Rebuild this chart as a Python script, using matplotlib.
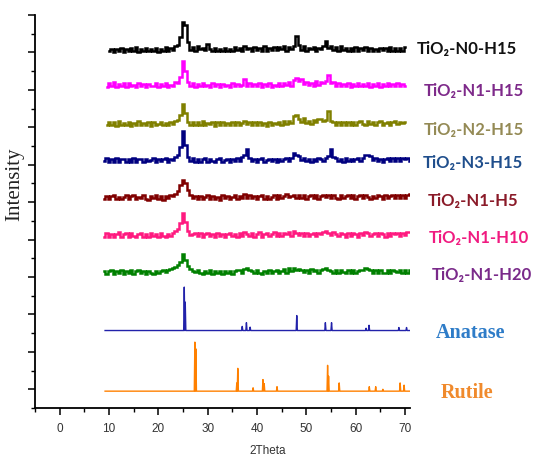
import numpy as np
import matplotlib
matplotlib.use("Agg")
import matplotlib.pyplot as plt

# XRD patterns, offset vertically (one major tick per unit)
# noisy samples: intensity above baseline in 1/100 units, 2theta = 9.0 + 0.5*i
n0_h15 = [0, 0, 3, 10, 2, 8, 4, 12, 2, 9,
          3, 11, 5, 14, 2, 9, 4, 12, 3, 10,
          5, 13, 2, 9, 4, 15, 3, 11, 6, 16,
          20, 40, 82, 74, 28, 6, 14, 4, 16, 8,
          12, 6, 22, 10, 5, 12, 3, 9, 4, 13,
          5, 10, 3, 14, 6, 12, 4, 16, 8, 13,
          4, 15, 6, 11, 3, 16, 5, 12, 7, 14,
          6, 14, 8, 17, 5, 15, 9, 18, 44, 20,
          7, 16, 5, 13, 8, 15, 4, 12, 10, 16,
          30, 12, 17, 6, 14, 5, 16, 7, 12, 4,
          13, 5, 15, 3, 11, 6, 14, 4, 12, 5,
          10, 3, 13, 6, 12, 4, 14, 5, 11, 3,
          12, 5, 14, 0, 0]
n1_h15 = [0, 3, 12, 4, 16, 3, 10, 5, 13, 2,
          14, 4, 9, 3, 12, 5, 10, 2, 11, 6,
          4, 13, 3, 10, 5, 12, 2, 9, 6, 15,
          12, 30, 72, 45, 15, 5, 12, 3, 10, 4,
          13, 5, 9, 3, 12, 6, 10, 2, 11, 5,
          9, 3, 12, 6, 10, 4, 8, 24, 6, 12,
          4, 11, 5, 13, 3, 10, 6, 12, 2, 9,
          6, 14, 4, 12, 7, 15, 5, 22, 26, 18,
          24, 10, 16, 8, 14, 6, 18, 9, 15, 12,
          20, 36, 12, 16, 6, 13, 4, 11, 5, 12,
          3, 10, 5, 13, 4, 11, 6, 14, 3, 10,
          5, 12, 3, 11, 6, 13, 4, 10, 5, 12,
          4, 11, 6, 0, 0]
n2_h15 = [0, 4, 14, 5, 12, 3, 15, 4, 10, 6,
          13, 3, 11, 5, 16, 4, 10, 6, 13, 3,
          12, 5, 9, 14, 4, 11, 6, 13, 8, 16,
          18, 32, 62, 38, 14, 5, 13, 4, 12, 6,
          15, 4, 11, 7, 13, 3, 12, 5, 14, 6,
          10, 4, 13, 6, 12, 5, 11, 15, 8, 13,
          5, 12, 4, 14, 6, 11, 3, 13, 5, 10,
          7, 14, 5, 16, 8, 15, 10, 28, 32, 20,
          12, 24, 10, 17, 9, 18, 12, 20, 22, 16,
          18, 42, 16, 13, 6, 12, 4, 14, 5, 12,
          6, 14, 4, 12, 16, 9, 5, 15, 8, 13,
          4, 12, 15, 5, 11, 14, 6, 13, 16, 7,
          14, 10, 13, 0, 0]
n3_h15 = [6, 14, 4, 12, 5, 15, 3, 11, 13, 4,
          12, 5, 14, 3, 11, 13, 4, 12, 6, 10,
          14, 4, 12, 6, 11, 15, 5, 13, 9, 18,
          22, 45, 88, 50, 18, 6, 14, 5, 12, 4,
          13, 15, 5, 12, 6, 4, 11, 16, 5, 10,
          13, 5, 11, 6, 14, 7, 18, 22, 40, 14,
          6, 13, 4, 12, 15, 5, 10, 13, 6, 11,
          5, 13, 6, 12, 14, 8, 16, 28, 24, 20,
          10, 14, 6, 13, 5, 12, 7, 15, 13, 8,
          16, 20, 38, 17, 14, 6, 12, 5, 14, 7,
          13, 6, 12, 15, 7, 16, 22, 24, 20, 10,
          14, 6, 13, 5, 12, 15, 7, 14, 6, 16,
          7, 14, 12, 15, 6]
n1_h5 = [4, 13, 5, 12, 16, 4, 11, 5, 9, 14,
         5, 12, 15, 4, 11, 6, 14, 5, 3, 12,
         6, 14, 4, 12, 3, 13, 6, 15, 12, 18,
         26, 42, 55, 48, 28, 14, 6, 13, 5, 12,
         4, 11, 14, 5, 12, 4, 10, 3, 14, 6,
         12, 4, 11, 15, 5, 13, 6, 17, 8, 14,
         6, 13, 4, 12, 16, 5, 13, 4, 11, 15,
         5, 15, 7, 13, 17, 9, 12, 15, 8, 16,
         6, 14, 5, 12, 15, 7, 14, 5, 12, 16,
         9, 16, 6, 15, 8, 5, 14, 7, 12, 15,
         6, 14, 5, 12, 15, 7, 14, 9, 5, 13,
         7, 15, 12, 5, 14, 6, 12, 16, 7, 14,
         8, 15, 6, 14, 19]
n1_h10 = [5, 15, 4, 13, 5, 12, 16, 4, 11, 14,
          5, 14, 7, 3, 13, 15, 5, 12, 4, 14,
          6, 13, 4, 15, 7, 3, 13, 6, 14, 19,
          24, 40, 68, 44, 20, 8, 11, 15, 7, 14,
          4, 13, 15, 6, 12, 3, 14, 6, 13, 5,
          12, 15, 6, 13, 4, 14, 7, 17, 12, 6,
          14, 5, 13, 16, 5, 12, 14, 6, 13, 16,
          7, 14, 6, 15, 12, 16, 7, 19, 15, 8,
          14, 7, 15, 6, 13, 14, 7, 15, 12, 16,
          19, 14, 8, 17, 13, 7, 15, 12, 5, 14,
          7, 14, 12, 5, 15, 8, 17, 14, 7, 13,
          15, 6, 14, 12, 5, 15, 7, 14, 12, 15,
          6, 14, 8, 16, 18]
n1_h20 = [12, 4, 11, 15, 5, 13, 6, 14, 4, 12,
          6, 14, 5, 12, 15, 6, 13, 4, 12, 7,
          5, 13, 6, 12, 14, 10, 15, 17, 19, 23,
          28, 35, 58, 42, 25, 17, 13, 10, 15, 7,
          5, 13, 6, 14, 4, 12, 6, 13, 5, 12,
          6, 13, 5, 12, 14, 15, 8, 17, 19, 14,
          12, 6, 15, 7, 5, 13, 6, 14, 7, 12,
          14, 7, 13, 17, 8, 19, 12, 21, 15, 18,
          15, 9, 14, 8, 17, 12, 15, 8, 16, 18,
          19, 16, 12, 8, 14, 7, 15, 10, 6, 14,
          8, 15, 7, 13, 16, 14, 19, 17, 14, 8,
          14, 6, 15, 8, 6, 14, 8, 15, 13, 9,
          14, 6, 15, 8, 14]

samples = [
    # label, data, baseline, start, end, line colour, label colour
    ("TiO\u2082-N0-H15", n0_h15, 9.00, 10.0, 70.0, "#000000", "#111111"),
    ("TiO\u2082-N1-H15", n1_h15, 8.05, 9.5, 70.0, "#FF00FF", "#7E2A8A"),
    ("TiO\u2082-N2-H15", n2_h15, 7.01, 9.5, 70.0, "#808000", "#948A55"),
    ("TiO\u2082-N3-H15", n3_h15, 6.03, 9.0, 71.0, "#000080", "#1F4E8C"),
    ("TiO\u2082-N1-H5", n1_h5, 5.04, 9.0, 71.0, "#800000", "#8A1A28"),
    ("TiO\u2082-N1-H10", n1_h10, 4.03, 9.0, 71.0, "#FF1A80", "#F01A80"),
    ("TiO\u2082-N1-H20", n1_h20, 3.04, 9.0, 71.0, "#008000", "#7A2A8A"),
]
label_px = [(417, 49), (424, 91), (424, 130), (423, 163), (428, 201), (429, 238), (432, 275)]

# reference patterns: peak positions (2theta) and heights
anatase_pos = [25.25, 25.45, 37.0, 37.85, 38.6, 48.05, 53.85, 55.1, 62.1, 62.7, 68.75, 70.3]
anatase_h = [1.16, 0.76, 0.11, 0.21, 0.09, 0.40, 0.21, 0.21, 0.06, 0.14, 0.08, 0.08]
anatase_base = 1.57
rutile_pos = [27.4, 27.6, 35.9, 36.1, 39.2, 41.2, 41.45, 44.05, 54.3, 54.5, 56.65, 62.75, 64.05, 65.5, 69.0, 69.8]
rutile_h = [1.31, 1.13, 0.22, 0.61, 0.09, 0.31, 0.20, 0.12, 0.69, 0.40, 0.22, 0.12, 0.12, 0.05, 0.22, 0.16]
rutile_base = -0.05
ref_range = (9.2, 71.0)


def stick_pattern(pos, heights, base, lo, hi, w=0.12):
    xs, ys = [lo], [base]
    for p, h in sorted(zip(pos, heights)):
        xs += [p - w, p, p + w]
        ys += [base, base + h, base]
    xs.append(hi)
    ys.append(base)
    return xs, ys


fig = plt.figure(figsize=(5.33, 4.56), dpi=100)
ax = fig.add_axes([35 / 533, 1 - 409 / 456, 375 / 533, 393 / 456])

for (name, vals, base, x0, x1, lc, tc), (lx, ly) in zip(samples, label_px):
    x = 9.0 + 0.5 * np.arange(len(vals))
    y = base + np.array(vals) / 100.0
    keep = (x >= x0) & (x <= x1)
    ax.plot(x[keep], y[keep], color=lc, lw=1.8, drawstyle="steps-mid",
            solid_joinstyle="miter")
    fig.text(lx / 533, 1 - ly / 456, name, color=tc, fontsize=12, fontweight="bold",
             family=["Lato", "DejaVu Sans"], va="center", ha="left")

ax_x, ax_y = stick_pattern(anatase_pos, anatase_h, anatase_base, *ref_range)
ax.plot(ax_x, ax_y, color="#2222AA", lw=1.0)
ru_x, ru_y = stick_pattern(rutile_pos, rutile_h, rutile_base, *ref_range)
ax.plot(ru_x, ru_y, color="#FF8000", lw=1.0)

fig.text(436 / 533, 1 - 333 / 456, "Anatase", color="#2E7CC8", fontsize=14.5, fontweight="bold",
         family="Liberation Serif", va="center", ha="left")
fig.text(441 / 533, 1 - 393 / 456, "Rutile", color="#F08A2C", fontsize=14.5, fontweight="bold",
         family="Liberation Serif", va="center", ha="left")

ax.set_xlim(-5, 71)
ax.set_ylim(-0.5, 10)
ax.set_xticks(np.arange(0, 71, 10))
ax.set_xticks(np.arange(-5, 71, 5), minor=True)
ax.set_yticks(np.arange(0, 11, 1))
ax.set_yticks(np.arange(-0.5, 10, 1), minor=True)
ax.set_yticklabels([])
for s in ["top", "right"]:
    ax.spines[s].set_visible(False)
for s in ["left", "bottom"]:
    ax.spines[s].set_linewidth(1.3)
ax.tick_params(axis="both", which="major", direction="out", length=5, width=1.1,
               labelsize=8.5, labelcolor="#333333", pad=5)
ax.tick_params(axis="both", which="minor", direction="out", length=3, width=1.0)
for t in ax.get_xticklabels():
    t.set_family("Liberation Sans")

fig.text(15 / 533, 1 - 184 / 456, "Intensity", rotation=90, fontsize=15, family="Liberation Serif",
         va="center", ha="center", color="#222222")
fig.text(268 / 533, 1 - 451 / 456, "2Theta", fontsize=8.5, family="Liberation Sans",
         va="center", ha="center", color="#333333")

fig.savefig("out.png", dpi=100)
